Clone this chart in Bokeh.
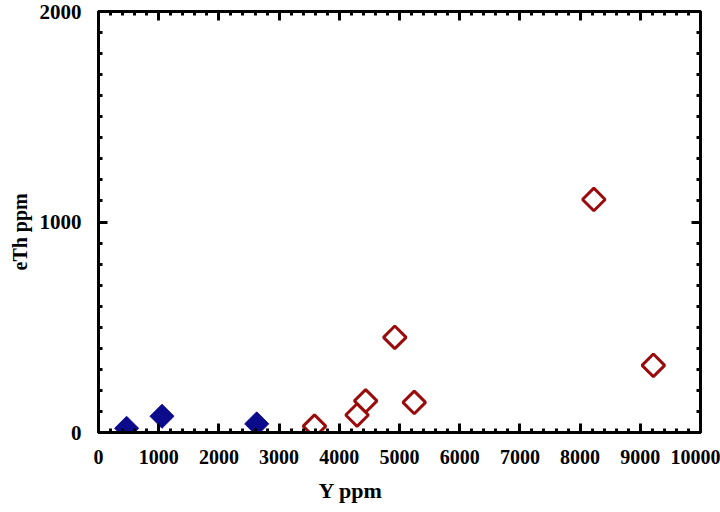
import math
from bokeh.plotting import figure
from bokeh.models import FixedTicker, LinearAxis, Range1d, Title
from bokeh.embed import file_html
from bokeh.resources import INLINE

# data
blue_x = [467, 1055, 2628]
blue_y = [20, 77, 41]
red_x = [3588, 4295, 4438, 4922, 5245, 8228, 9217]
red_y = [30, 83, 150, 452, 143, 1107, 319]

x_ticks = list(range(0, 10001, 1000))
x_minor = list(range(0, 10001, 200))
y_ticks = [0, 1000, 2000]
y_minor = list(range(0, 2001, 100))

x_title = "Y ppm"
y_title = "eTh ppm"

FONT = "Liberation Serif"

p = figure(width=720, height=512, output_backend="svg", toolbar_location=None,
           x_range=Range1d(0, 10000), y_range=Range1d(0, 2000),
           x_axis_location=None, y_axis_location=None,
           min_border_left=98, min_border_right=20,
           min_border_top=11, min_border_bottom=80)
p.grid.visible = False
p.outline_line_color = "black"
p.outline_line_width = 3
p.background_fill_color = "white"
p.border_fill_color = "white"


def style(ax, ticks, minor, size="20px", show_labels=True):
    ax.ticker = FixedTicker(ticks=ticks, minor_ticks=minor)
    ax.axis_line_width = 3
    ax.axis_line_color = "black"
    ax.major_tick_in = 9
    ax.major_tick_out = 0
    ax.minor_tick_in = 4
    ax.minor_tick_out = 0
    ax.major_tick_line_width = 3
    ax.minor_tick_line_width = 3
    ax.major_tick_line_color = "black"
    ax.minor_tick_line_color = "black"
    ax.major_label_text_font = FONT
    ax.major_label_text_font_style = "bold"
    ax.major_label_text_color = "black"
    if show_labels:
        ax.major_label_text_font_size = size
    else:
        ax.major_label_text_font_size = "0px"
        ax.major_label_text_alpha = 0
        ax.major_label_standoff = 0


xb = LinearAxis()
style(xb, x_ticks, x_minor, size="20px")
xb.major_label_standoff = 17
p.add_layout(xb, "below")

yl = LinearAxis()
style(yl, y_ticks, y_minor, size="21px")
yl.major_label_standoff = 17
p.add_layout(yl, "left")

xt = LinearAxis()
style(xt, x_ticks, x_minor, show_labels=False)
p.add_layout(xt, "above")

yr = LinearAxis()
style(yr, y_ticks, y_minor, show_labels=False)
p.add_layout(yr, "right")

p.scatter(blue_x, blue_y, marker="square", angle=math.pi / 4, size=17,
          fill_color="#0b0b8c", line_color="#0b0b8c", line_width=1)
p.scatter(red_x, red_y, marker="square", angle=math.pi / 4, size=16,
          fill_color=None, line_color="#9a0c0c", line_width=3)

p.add_layout(Title(text=x_title, align="left", offset=220, standoff=18,
                   text_font=FONT, text_font_style="bold", text_font_size="22px",
                   text_color="black"), "below")
p.add_layout(Title(text=y_title, align="left", offset=162, standoff=12,
                   text_font=FONT, text_font_style="bold", text_font_size="20px",
                   text_color="black"), "left")

open("out.html", "w").write(file_html(p, INLINE))
